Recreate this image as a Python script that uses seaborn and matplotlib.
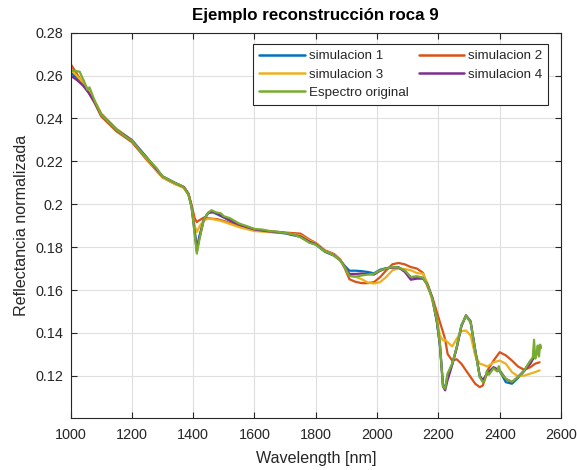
import matplotlib
matplotlib.use("Agg")
import matplotlib.pyplot as plt
from matplotlib.lines import Line2D
import seaborn as sns
import pandas as pd

# ---------------- data ----------------
wl = [1000, 1020, 1040, 1060, 1080, 1100, 1150, 1200, 1250, 1300, 1340, 1370, 1385, 1395, 1405,
      1412, 1420, 1435, 1450, 1465, 1480, 1500, 1550, 1600, 1650, 1700, 1750, 1780, 1800, 1830,
      1860, 1880, 1895, 1910, 1930, 1950, 1970, 1990, 2010, 2030, 2050, 2070, 2090, 2110, 2130,
      2150, 2165, 2180, 2195, 2205, 2215, 2222, 2230, 2245, 2260, 2275, 2290, 2305, 2320, 2335,
      2345, 2360, 2380, 2400, 2420, 2440, 2460, 2480, 2500, 2515, 2530]

sim1 = [0.2615, 0.2590, 0.2560, 0.2522, 0.2475, 0.2420, 0.2350, 0.2300, 0.2216, 0.2130, 0.2100,
        0.2080, 0.2045, 0.1990, 0.1880, 0.1795, 0.1850, 0.1930, 0.1960, 0.1962, 0.1952, 0.1938,
        0.1900, 0.1880, 0.1872, 0.1864, 0.1848, 0.1822, 0.1812, 0.1778, 0.1760, 0.1738, 0.1712,
        0.1690, 0.1690, 0.1688, 0.1684, 0.1678, 0.1695, 0.1702, 0.1706, 0.1706, 0.1690, 0.1658,
        0.1662, 0.1657, 0.1622, 0.1560, 0.1450, 0.1345, 0.1160, 0.1140, 0.1205, 0.1255, 0.1335,
        0.1435, 0.1480, 0.1450, 0.1318, 0.1195, 0.1175, 0.1215, 0.1238, 0.1222, 0.1170, 0.1163,
        0.1190, 0.1222, 0.1268, 0.1290, 0.1330]

sim2 = [0.2655, 0.2610, 0.2565, 0.2520, 0.2468, 0.2410, 0.2340, 0.2290, 0.2205, 0.2125, 0.2095,
        0.2080, 0.2050, 0.1995, 0.1935, 0.1917, 0.1925, 0.1938, 0.1935, 0.1932, 0.1930, 0.1922,
        0.1898, 0.1880, 0.1874, 0.1868, 0.1863, 0.1835, 0.1820, 0.1785, 0.1768, 0.1742, 0.1700,
        0.1650, 0.1638, 0.1632, 0.1632, 0.1637, 0.1660, 0.1692, 0.1720, 0.1726, 0.1720, 0.1707,
        0.1700, 0.1680, 0.1614, 0.1567, 0.1497, 0.1450, 0.1404, 0.1370, 0.1302, 0.1271, 0.1277,
        0.1256, 0.1225, 0.1194, 0.1163, 0.1147, 0.1155, 0.1225, 0.1271, 0.1310, 0.1295, 0.1271,
        0.1243, 0.1228, 0.1240, 0.1256, 0.1263]

sim3 = [0.2630, 0.2600, 0.2570, 0.2530, 0.2480, 0.2425, 0.2352, 0.2298, 0.2210, 0.2125, 0.2095,
        0.2075, 0.2042, 0.1985, 0.1900, 0.1870, 0.1895, 0.1925, 0.1933, 0.1930, 0.1926, 0.1918,
        0.1893, 0.1875, 0.1870, 0.1866, 0.1855, 0.1830, 0.1818, 0.1782, 0.1765, 0.1740, 0.1705,
        0.1668, 0.1662, 0.1650, 0.1635, 0.1630, 0.1637, 0.1661, 0.1692, 0.1700, 0.1698, 0.1692,
        0.1679, 0.1676, 0.1630, 0.1552, 0.1466, 0.1388, 0.1365, 0.1368, 0.1357, 0.1337, 0.1373,
        0.1408, 0.1411, 0.1388, 0.1295, 0.1256, 0.1252, 0.1243, 0.1263, 0.1271, 0.1256, 0.1217,
        0.1197, 0.1201, 0.1210, 0.1217, 0.1225]

sim4 = [0.2600, 0.2580, 0.2555, 0.2518, 0.2472, 0.2418, 0.2348, 0.2298, 0.2215, 0.2130, 0.2100,
        0.2080, 0.2045, 0.1988, 0.1870, 0.1780, 0.1840, 0.1930, 0.1962, 0.1965, 0.1955, 0.1940,
        0.1905, 0.1882, 0.1873, 0.1866, 0.1850, 0.1825, 0.1815, 0.1780, 0.1762, 0.1738, 0.1708,
        0.1675, 0.1675, 0.1677, 0.1675, 0.1672, 0.1690, 0.1700, 0.1705, 0.1705, 0.1685, 0.1648,
        0.1653, 0.1653, 0.1625, 0.1565, 0.1455, 0.1340, 0.1150, 0.1132, 0.1180, 0.1250, 0.1330,
        0.1430, 0.1482, 0.1455, 0.1322, 0.1200, 0.1180, 0.1210, 0.1240, 0.1225, 0.1185, 0.1170,
        0.1195, 0.1225, 0.1256, 0.1295, 0.1341]

wl_orig = [1000, 1015, 1030, 1045, 1055, 1062, 1080, 1100, 1130, 1150, 1175, 1200, 1230, 1250,
           1280, 1300, 1320, 1340, 1360, 1370, 1385, 1395, 1405, 1412, 1420, 1435, 1450, 1460,
           1475, 1490, 1500, 1520, 1550, 1575, 1600, 1625, 1650, 1675, 1700, 1725, 1750, 1780,
           1800, 1815, 1830, 1850, 1860, 1880, 1895, 1910, 1930, 1950, 1970, 1990, 2010, 2030,
           2050, 2070, 2090, 2110, 2130, 2150, 2165, 2180, 2195, 2205, 2215, 2222, 2230, 2245,
           2260, 2275, 2290, 2305, 2320, 2335, 2345, 2352, 2358, 2365, 2380, 2392, 2397, 2402,
           2420, 2440, 2460, 2480, 2500, 2508, 2512, 2516, 2520, 2524, 2528, 2532, 2535]

orig = [0.2625, 0.2622, 0.2618, 0.2570, 0.2535, 0.2545, 0.2478, 0.2418, 0.2375, 0.2348, 0.2320,
        0.2296, 0.2245, 0.2214, 0.2170, 0.2130, 0.2115, 0.2100, 0.2088, 0.2078, 0.2045, 0.1985,
        0.1860, 0.1770, 0.1832, 0.1930, 0.1962, 0.1972, 0.1962, 0.1958, 0.1944, 0.1935, 0.1910,
        0.1898, 0.1885, 0.1882, 0.1875, 0.1872, 0.1866, 0.1860, 0.1846, 0.1820, 0.1812, 0.1795,
        0.1780, 0.1768, 0.1760, 0.1738, 0.1705, 0.1665, 0.1662, 0.1668, 0.1672, 0.1676, 0.1692,
        0.1700, 0.1708, 0.1705, 0.1692, 0.1661, 0.1664, 0.1657, 0.1622, 0.1560, 0.1460, 0.1349,
        0.1150, 0.1140, 0.1210, 0.1256, 0.1334, 0.1435, 0.1481, 0.1451, 0.1318, 0.1194, 0.1170,
        0.1180, 0.1222, 0.1205, 0.1235, 0.1220, 0.1245, 0.1215, 0.1186, 0.1172, 0.1194, 0.1225,
        0.1271, 0.1285, 0.1368, 0.1280, 0.1300, 0.1341, 0.1290, 0.1345, 0.1330]

series_names = ["simulacion 1", "simulacion 2", "simulacion 3", "simulacion 4", "Espectro original"]
colors = ["#0072BD", "#D95319", "#EDB120", "#7E2F8E", "#77AC30"]

xticks = [1000, 1200, 1400, 1600, 1800, 2000, 2200, 2400, 2600]
yticks = [0.12, 0.14, 0.16, 0.18, 0.20, 0.22, 0.24, 0.26, 0.28]
ytick_labels = ["0.12", "0.14", "0.16", "0.18", "0.2", "0.22", "0.24", "0.26", "0.28"]

# ---------------- build table ----------------
frames = []
for name, y in zip(series_names[:4], [sim1, sim2, sim3, sim4]):
    frames.append(pd.DataFrame({"wl": wl, "refl": y, "serie": name}))
frames.append(pd.DataFrame({"wl": wl_orig, "refl": orig, "serie": series_names[4]}))
df = pd.concat(frames, ignore_index=True)

# ---------------- style ----------------
sns.set_theme(style="whitegrid")
plt.rcParams["font.family"] = ["Liberation Sans", "DejaVu Sans"]
plt.rcParams.update({
    "axes.edgecolor": "#262626",
    "axes.linewidth": 0.8,
    "grid.color": "#DFDFDF",
    "grid.linewidth": 0.8,
    "xtick.direction": "in",
    "ytick.direction": "in",
})

fig = plt.figure(figsize=(5.77, 4.70), dpi=100)
ax = fig.add_axes([0.1222, 0.1106, 0.8501, 0.8198])

sns.lineplot(data=df, x="wl", y="refl", hue="serie", hue_order=series_names,
             palette=dict(zip(series_names, colors)), sort=False, estimator=None,
             linewidth=1.6, ax=ax, legend=False)

ax.set_xlim(1000, 2600)
ax.set_ylim(0.1003, 0.28)
ax.set_xticks(xticks)
ax.set_xticklabels([str(t) for t in xticks])
ax.set_yticks(yticks)
ax.set_yticklabels(ytick_labels)
ax.tick_params(axis="both", which="both", direction="in", length=4, width=0.8,
               color="#262626", labelcolor="#262626", labelsize=10.4,
               top=True, right=True, bottom=True, left=True)
ax.tick_params(axis="x", pad=7)
ax.tick_params(axis="y", pad=5)
for s in ax.spines.values():
    s.set_visible(True)
    s.set_color("#262626")
    s.set_linewidth(0.8)
ax.grid(True, color="#DFDFDF", linewidth=0.8)

ax.set_xlabel("Wavelength [nm]", fontsize=11.6, color="#262626", labelpad=7)
ax.set_ylabel("Reflectancia normalizada", fontsize=11.6, color="#262626", labelpad=5)
ax.set_title("Ejemplo reconstrucción roca 9", fontsize=12.2, fontweight="bold", color="black", pad=9)

# legend: row-wise order as in the reference
handles = {n: Line2D([], [], color=c, linewidth=1.8) for n, c in zip(series_names, colors)}
order = ["simulacion 1", "simulacion 3", "Espectro original", "simulacion 2", "simulacion 4"]
leg = ax.legend([handles[n] for n in order], order, ncol=2, loc="upper right",
                bbox_to_anchor=(0.9735, 0.9707), borderaxespad=0, fontsize=9.6, frameon=True,
                fancybox=False, framealpha=1, edgecolor="#262626", handlelength=3.4,
                handletextpad=0.3, columnspacing=0.75, labelspacing=0.45, borderpad=0.45)
leg.get_frame().set_linewidth(0.8)

fig.savefig("out.png", dpi=100)
